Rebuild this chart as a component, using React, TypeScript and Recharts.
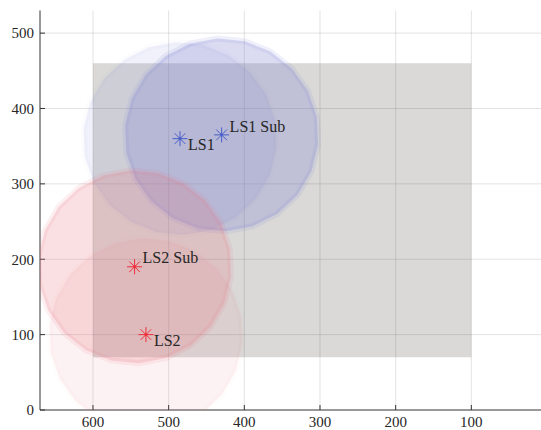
import { ScatterChart, Scatter, XAxis, YAxis, ReferenceArea, ReferenceLine } from "recharts";

// source positions and their coverage radius
const sourceNames = ["LS1", "LS1 Sub", "LS2", "LS2 Sub"];
const sourceX = [485, 430, 530, 545];
const sourceY = [360, 365, 100, 190];
const coverRadius = [128, 128, 128, 128];

// shaded working zone
const zoneX = [100, 600];
const zoneY = [70, 460];

const xTicks = [600, 500, 400, 300, 200, 100];
const yTicks = [0, 100, 200, 300, 400, 500];

const FONT = "'Liberation Serif', 'Times New Roman', serif";
const INK = "#262626";

const discStyle: Record<string, { color: string; fillOpacity: number; strokeOpacity: number }> = {
  "LS1": { color: "#7073cf", fillOpacity: 0.1, strokeOpacity: 0.02 },
  "LS1 Sub": { color: "#7f81d2", fillOpacity: 0.28, strokeOpacity: 0.12 },
  "LS2": { color: "#e8707c", fillOpacity: 0.09, strokeOpacity: 0.02 },
  "LS2 Sub": { color: "#e8707c", fillOpacity: 0.22, strokeOpacity: 0.1 },
};

const markerColor: Record<string, string> = {
  "LS1": "#4a5fc9",
  "LS1 Sub": "#4a5fc9",
  "LS2": "#ee2e3a",
  "LS2 Sub": "#ee2e3a",
};

// sub labels sit above the marker, main labels below
const labelDy: Record<string, number> = {
  "LS1": 11,
  "LS1 Sub": -3,
  "LS2": 11,
  "LS2 Sub": -4,
};

const SIDES = 22;

// closed polygon approximating a disc in data units
const discOutline = (cx: number, cy: number, r: number) => {
  const pts = [];
  for (let i = 0; i <= SIDES; i++) {
    const a = (i / SIDES) * Math.PI * 2 + 0.1;
    pts.push({ x: cx + r * Math.cos(a), y: cy + r * Math.sin(a) });
  }
  return pts;
};

const sources = sourceNames.map((name, i) => ({ name, x: sourceX[i], y: sourceY[i] }));

const Nothing = () => <g />;

const Asterisk = (props: any) => {
  const { cx, cy, payload } = props;
  const c = markerColor[payload.name];
  const r = 7.5;
  const d = r * 0.7071;
  return (
    <g>
      <g stroke={c} strokeWidth={1}>
        <line x1={cx - r} y1={cy} x2={cx + r} y2={cy} />
        <line x1={cx} y1={cy - r} x2={cx} y2={cy + r} />
        <line x1={cx - d} y1={cy - d} x2={cx + d} y2={cy + d} />
        <line x1={cx - d} y1={cy + d} x2={cx + d} y2={cy - d} />
      </g>
      <circle cx={cx} cy={cy} r={1.4} fill={c} />
      <text x={cx + 8} y={cy + labelDy[payload.name]} fontFamily={FONT} fontSize={16} fill={INK}>
        {payload.name}
      </text>
    </g>
  );
};

const tickStyle = { fill: INK, fontSize: 15, fontFamily: FONT };

export default function App() {
  return (
    <div style={{ position: "absolute", left: 0, top: 0, width: 541, height: 430, overflow: "hidden", background: "#fff" }}>
      <ScatterChart width={547} height={440} margin={{ top: 10.5, right: 0, bottom: 0, left: 0 }}>
        <XAxis
          type="number"
          dataKey="x"
          domain={[0, 670]}
          reversed
          allowDataOverflow
          ticks={xTicks}
          interval={0}
          height={30}
          tickSize={-5}
          tickMargin={11}
          tick={tickStyle}
          axisLine={{ stroke: "#333" }}
          tickLine={{ stroke: "#333" }}
        />
        <YAxis
          type="number"
          dataKey="y"
          domain={[0, 530]}
          allowDataOverflow
          ticks={yTicks}
          interval={0}
          width={40}
          tickSize={-5}
          tickMargin={11}
          tick={tickStyle}
          axisLine={{ stroke: "#333" }}
          tickLine={{ stroke: "#333" }}
        />
        <ReferenceArea
          x1={zoneX[0]}
          x2={zoneX[1]}
          y1={zoneY[0]}
          y2={zoneY[1]}
          fill="#b5b3b1"
          fillOpacity={0.5}
          stroke="none"
        />
        {sourceNames.map((name, i) => {
          const s = discStyle[name];
          return (
            <Scatter
              key={name + "-disc"}
              data={discOutline(sourceX[i], sourceY[i], coverRadius[i])}
              shape={Nothing}
              line={{
                fill: s.color,
                fillOpacity: s.fillOpacity,
                stroke: s.color,
                strokeOpacity: s.strokeOpacity,
                strokeWidth: 6,
                strokeLinejoin: "round",
              }}
              lineJointType="linear"
              legendType="none"
              isAnimationActive={false}
            />
          );
        })}
        {xTicks.map((t) => (
          <ReferenceLine key={"gx" + t} x={t} stroke={INK} strokeOpacity={0.13} />
        ))}
        {yTicks.filter((t) => t > 0).map((t) => (
          <ReferenceLine key={"gy" + t} y={t} stroke={INK} strokeOpacity={0.13} />
        ))}
        <Scatter data={sources} shape={Asterisk} isAnimationActive={false} />
      </ScatterChart>
    </div>
  );
}
